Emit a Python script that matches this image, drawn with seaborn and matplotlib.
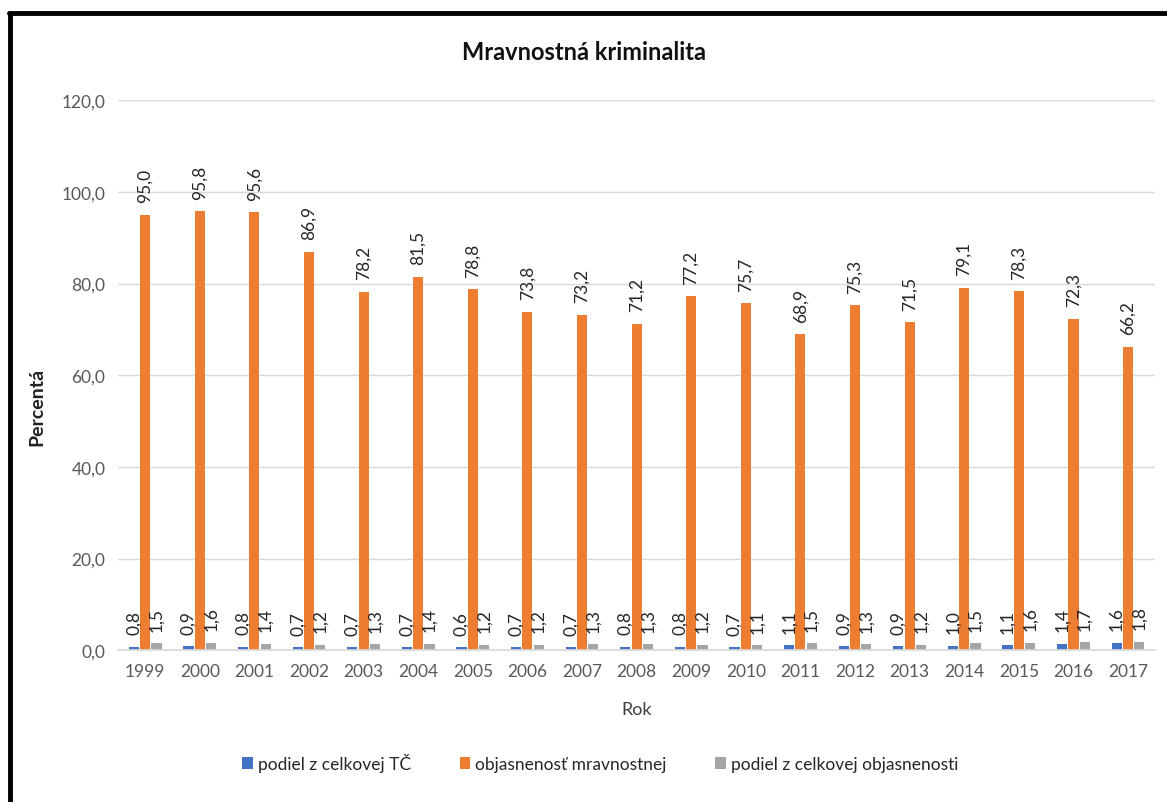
import pandas as pd
import matplotlib.pyplot as plt
import matplotlib.lines as mlines
import seaborn as sns

years = [str(y) for y in range(1999, 2018)]
podiel_tc = [0.8, 0.9, 0.8, 0.7, 0.7, 0.7, 0.6, 0.7, 0.7, 0.8, 0.8, 0.7, 1.1, 0.9, 0.9, 1.0, 1.1, 1.4, 1.6]
objasnenost = [95.0, 95.8, 95.6, 86.9, 78.2, 81.5, 78.8, 73.8, 73.2, 71.2, 77.2, 75.7, 68.9, 75.3, 71.5, 79.1, 78.3, 72.3, 66.2]
podiel_obj = [1.5, 1.6, 1.4, 1.2, 1.3, 1.4, 1.2, 1.2, 1.3, 1.3, 1.2, 1.1, 1.5, 1.3, 1.2, 1.5, 1.6, 1.7, 1.8]
series_names = ['podiel z celkovej TČ', 'objasnenosť mravnostnej', 'podiel z celkovej objasnenosti']
colors = ['#4472C4', '#ED7D31', '#A5A5A5']

df = pd.DataFrame({
    'Rok': years * 3,
    'Hodnota': podiel_tc + objasnenost + podiel_obj,
    'Séria': [series_names[0]] * 19 + [series_names[1]] * 19 + [series_names[2]] * 19,
})

sns.set_theme(style="white")
plt.rcParams['font.family'] = ['Lato', 'DejaVu Sans']

fig = plt.figure(figsize=(11.67, 8.03), dpi=100)
ax = fig.add_axes([0.101, 0.189, 0.889, 0.685])

sns.barplot(data=df, x='Rok', y='Hodnota', hue='Séria', palette=colors,
            width=0.62, gap=0.1, saturation=1, linewidth=0, ax=ax, legend=True)

for cont in ax.containers:
    labels = [f"{b.get_height():.1f}".replace('.', ',') for b in cont]
    ax.bar_label(cont, labels=labels, rotation=90, padding=9, fontsize=12.5, color='#262626')

ax.set_ylim(0, 120)
ax.set_xlim(-0.5, 18.5)
ax.set_yticks(range(0, 121, 20))
ax.set_yticklabels([f"{v},0" for v in range(0, 121, 20)])
ax.yaxis.grid(True, color='#d9d9d9', linewidth=1)
ax.set_axisbelow(True)
for s in ['top', 'right', 'left']:
    ax.spines[s].set_visible(False)
ax.spines['bottom'].set_color('#d9d9d9')
ax.tick_params(axis='both', length=0, labelsize=12.5, labelcolor='#595959', pad=9)

ax.set_xlabel('Rok', fontsize=13, color='#404040', labelpad=16)
ax.set_ylabel('Percentá', fontsize=14, fontweight='bold', color='#222222')
ax.yaxis.set_label_coords(-0.07, 0.445)
fig.text(0.5, 0.935, 'Mravnostná kriminalita', ha='center', va='center',
         fontsize=17, fontweight='bold', color='#111111')

leg = ax.legend(loc='center', bbox_to_anchor=(0.465, -0.205), ncol=3, frameon=False,
                fontsize=12.5, handlelength=0.6, handleheight=0.7, handletextpad=0.3,
                columnspacing=2.8)
for t in leg.get_texts():
    t.set_color('#262626')

# outer frame (top and left edges visible)
fig.add_artist(mlines.Line2D([0.0075, 1.0], [0.983, 0.983], color='black', linewidth=3.5,
                             transform=fig.transFigure))
fig.add_artist(mlines.Line2D([0.0085, 0.0085], [0.0, 0.983], color='black', linewidth=3.5,
                             transform=fig.transFigure))

plt.savefig('out.png', dpi=100)
